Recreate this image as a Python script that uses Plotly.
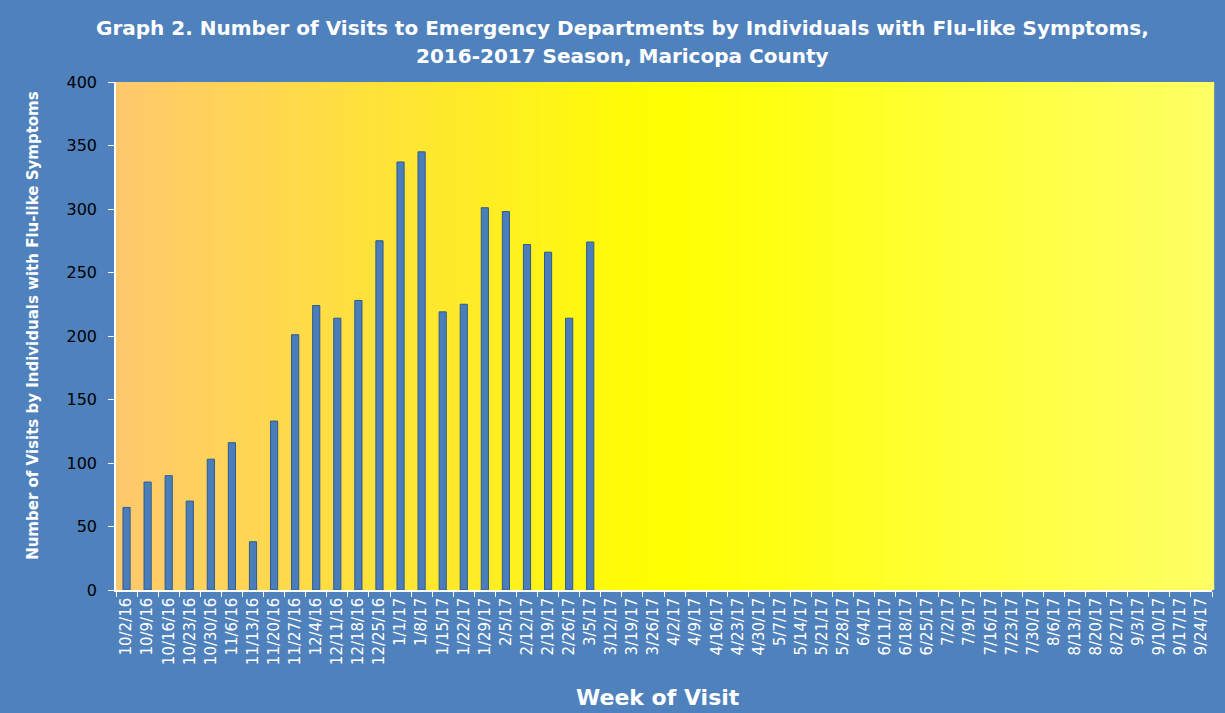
import plotly.graph_objects as go

weeks = ["10/2/16", "10/9/16", "10/16/16", "10/23/16", "10/30/16", "11/6/16", "11/13/16",
         "11/20/16", "11/27/16", "12/4/16", "12/11/16", "12/18/16", "12/25/16", "1/1/17",
         "1/8/17", "1/15/17", "1/22/17", "1/29/17", "2/5/17", "2/12/17", "2/19/17", "2/26/17",
         "3/5/17", "3/12/17", "3/19/17", "3/26/17", "4/2/17", "4/9/17", "4/16/17", "4/23/17",
         "4/30/17", "5/7/17", "5/14/17", "5/21/17", "5/28/17", "6/4/17", "6/11/17", "6/18/17",
         "6/25/17", "7/2/17", "7/9/17", "7/16/17", "7/23/17", "7/30/17", "8/6/17", "8/13/17",
         "8/20/17", "8/27/17", "9/3/17", "9/10/17", "9/17/17", "9/24/17"]

visits = [65, 85, 90, 70, 103, 116, 38, 133, 201, 224, 214, 228, 275, 337, 345, 219, 225,
          301, 298, 272, 266, 214, 274]
visits = visits + [None] * (len(weeks) - len(visits))

y_ticks = [0, 50, 100, 150, 200, 250, 300, 350, 400]

title_lines = ["Graph 2. Number of Visits to Emergency Departments by Individuals with Flu-like Symptoms,",
               "2016-2017 Season, Maricopa County"]

BLUE = "#4F81BD"

fig = go.Figure()
fig.add_trace(go.Bar(
    x=weeks, y=visits,
    marker=dict(color="#4A7EBB", line=dict(color="#2F5A8C", width=1)),
    hoverinfo="x+y",
))

# gradient plot background (orange -> yellow -> light yellow)
def lerp(c1, c2, t):
    return tuple(round(a + (b - a) * t) for a, b in zip(c1, c2))

stops = [(0.0, (255, 200, 110)), (0.5, (255, 255, 0)), (1.0, (255, 255, 102))]
N = 160
shapes = []
for i in range(N):
    t = (i + 0.5) / N
    for (p0, c0), (p1, c1) in zip(stops[:-1], stops[1:]):
        if p0 <= t <= p1:
            col = lerp(c0, c1, (t - p0) / (p1 - p0))
            break
    shapes.append(dict(type="rect", xref="x domain", yref="y domain",
                       x0=i / N, x1=(i + 1) / N + 0.002, y0=0, y1=1,
                       fillcolor="rgb(%d,%d,%d)" % col, line=dict(width=0),
                       layer="below"))

title_font = dict(family="DejaVu Sans", size=20, color="white", weight="bold")

fig.update_layout(
    width=1225, height=713,
    paper_bgcolor=BLUE, plot_bgcolor="#FFFF00",
    margin=dict(l=116, r=13, t=82, b=123),
    shapes=shapes,
    bargap=0.66,
    showlegend=False,
    xaxis=dict(
        type="category", tickangle=-90, tickson="boundaries",
        ticks="outside", ticklen=5, tickcolor="white",
        showline=True, linecolor="white", linewidth=1.5,
        showgrid=False,
        tickfont=dict(family="DejaVu Sans", size=15, color="white"),
    ),
    yaxis=dict(
        range=[0, 400], tickvals=y_ticks,
        ticks="outside", ticklen=6, tickcolor="white",
        showline=True, linecolor="white", linewidth=1.5,
        showgrid=False, zeroline=False, ticklabelstandoff=8,
        tickfont=dict(family="DejaVu Sans", size=16, color="black"),
    ),
    annotations=[
        dict(text=title_lines[0], xref="paper", yref="paper", x=0.4617, y=1.1063,
             xanchor="center", yanchor="middle", showarrow=False, font=title_font),
        dict(text=title_lines[1], xref="paper", yref="paper", x=0.4617, y=1.0512,
             xanchor="center", yanchor="middle", showarrow=False, font=title_font),
        dict(text="Week of Visit", xref="paper", yref="paper", x=0.4945, y=-0.211,
             xanchor="center", yanchor="middle", showarrow=False,
             font=dict(family="DejaVu Sans", size=22, color="white", weight="bold")),
        dict(text="Number of Visits by Individuals with Flu-like Symptoms",
             xref="paper", yref="paper", x=-0.0757, y=0.52, textangle=-90,
             xanchor="center", yanchor="middle", showarrow=False,
             font=dict(family="DejaVu Sans", size=15, color="white", weight="bold")),
    ],
)

fig.write_html("out.html", config={"displayModeBar": False},
               post_script="document.body.style.margin='0';")
